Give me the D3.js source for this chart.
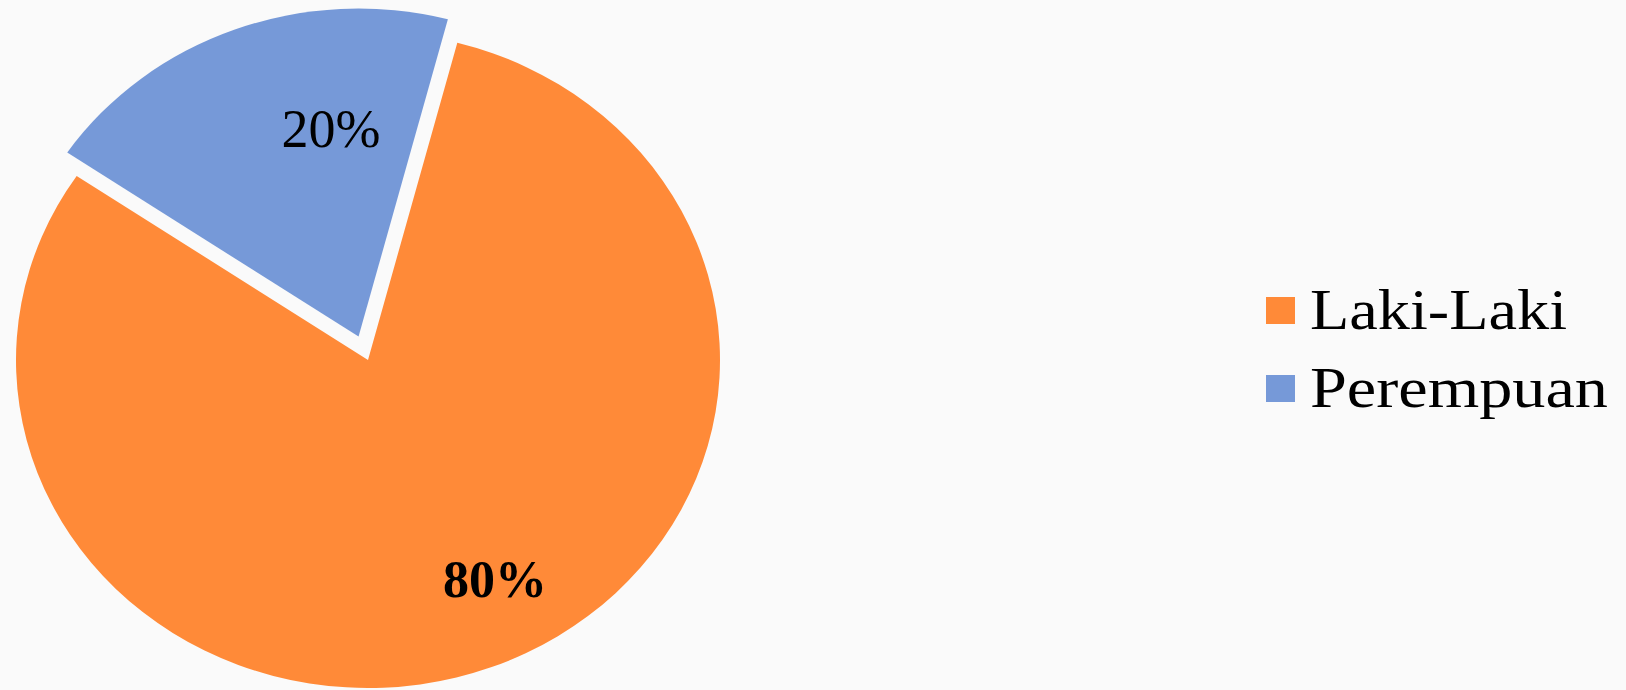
<!DOCTYPE html>
<html>
<head>
<meta charset="utf-8">
<script src="https://cdn.jsdelivr.net/npm/d3@7"></script>
<style>
  html, body { margin: 0; padding: 0; background: #fafafa; }
  svg { display: block; }
</style>
</head>
<body>
<svg id="chart" width="1626" height="690"></svg>
<script>
// ---- data ----
const categories = ["Laki-Laki", "Perempuan"];
const values = [80.4, 19.6];
const percentLabels = ["80%", "20%"];
const colors = ["#FF8A38", "#7699D8"];

// ---- layout ----
const W = 1626, H = 690;
const cx = 368, cy = 360;
const ry = 328, rx = 352;        // slightly elliptical pie as in reference
const sx = rx / ry;
const explode = [0, 25];         // Perempuan slice pulled out
const startA = (14.7 / 360) * 2 * Math.PI;

const svg = d3.select("#chart");
svg.append("rect").attr("width", W).attr("height", H).attr("fill", "#fafafa");

const pie = d3.pie().sort(null).value(d => d)
  .startAngle(startA).endAngle(startA + 2 * Math.PI);
const arcs = pie(values);
const arc = d3.arc().innerRadius(0).outerRadius(ry);

const g = svg.append("g").attr("transform", `translate(${cx},${cy}) scale(${sx},1)`);
g.selectAll("path").data(arcs).enter().append("path")
  .attr("d", arc)
  .attr("fill", (d, i) => colors[i])
  .attr("transform", (d, i) => {
    const mid = (d.startAngle + d.endAngle) / 2;
    const o = explode[i];
    return `translate(${Math.sin(mid) * o},${-Math.cos(mid) * o})`;
  });

// labels (positions relative to pie centre, in page pixels)
const labelPos = [
  { x: 127, y: 237, weight: "bold", size: 52 },
  { x: -37, y: -213, weight: "normal", size: 54 }
];
svg.selectAll("text.lbl").data(arcs).enter().append("text")
  .attr("class", "lbl")
  .attr("x", (d, i) => cx + labelPos[i].x)
  .attr("y", (d, i) => cy + labelPos[i].y)
  .attr("text-anchor", "middle")
  .attr("font-family", "'Liberation Serif', 'DejaVu Serif', serif")
  .attr("font-size", (d, i) => labelPos[i].size)
  .attr("font-weight", (d, i) => labelPos[i].weight)
  .attr("fill", "#000")
  .text((d, i) => percentLabels[i]);

// legend
const legend = svg.append("g").attr("transform", "translate(1266,297)");
const rowH = 78;
const legendWidths = [257, 298];
const items = legend.selectAll("g").data(categories).enter().append("g")
  .attr("transform", (d, i) => `translate(0,${i * rowH})`);
items.append("rect")
  .attr("width", 29).attr("height", 27)
  .attr("fill", (d, i) => colors[i]);
items.append("text")
  .attr("x", 44).attr("y", 32)
  .attr("font-family", "'Liberation Serif', 'DejaVu Serif', serif")
  .attr("font-size", 56)
  .attr("fill", "#000")
  .attr("textLength", (d, i) => legendWidths[i])
  .attr("lengthAdjust", "spacingAndGlyphs")
  .text(d => d);
</script>
</body>
</html>
